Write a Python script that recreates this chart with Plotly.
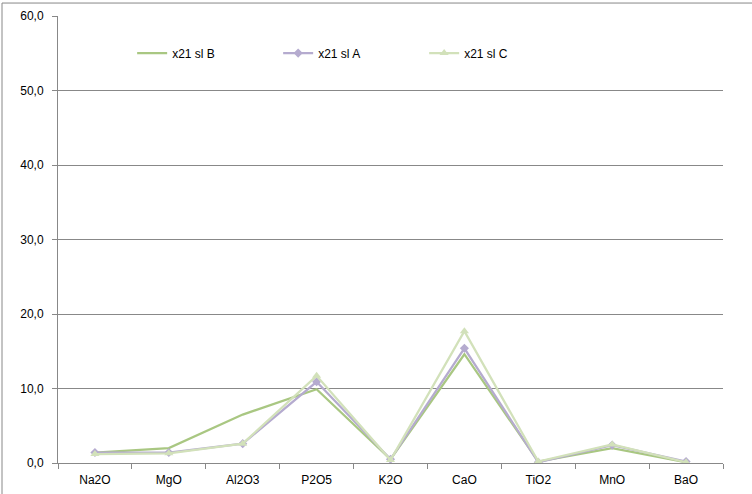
import plotly.graph_objects as go

categories = ["Na2O", "MgO", "Al2O3", "P2O5", "K2O", "CaO", "TiO2", "MnO", "BaO"]
series_B = [1.4, 2.0, 6.5, 9.9, 0.5, 14.6, 0.2, 2.0, 0.1]
series_A = [1.4, 1.4, 2.6, 10.9, 0.5, 15.4, 0.1, 2.4, 0.2]
series_C = [1.2, 1.3, 2.6, 11.7, 0.4, 17.7, 0.2, 2.5, 0.1]
y_ticks = [0, 10, 20, 30, 40, 50, 60]

fig = go.Figure()
fig.add_trace(go.Scatter(x=categories, y=series_B, name="x21 sl B", mode="lines",
                         line=dict(color="#A9C782", width=2.25)))
fig.add_trace(go.Scatter(x=categories, y=series_A, name="x21 sl A", mode="lines+markers",
                         line=dict(color="#B5ABCF", width=2.25),
                         marker=dict(symbol="diamond", size=7, color="#B5ABCF")))
fig.add_trace(go.Scatter(x=categories, y=series_C, name="x21 sl C", mode="lines+markers",
                         line=dict(color="#D2E1BA", width=2.25),
                         marker=dict(symbol="triangle-up", size=8, color="#D2E1BA")))

grid = "#888888"
fig.update_layout(
    width=752, height=494,
    margin=dict(l=58, r=29, t=16, b=31, autoexpand=False),
    paper_bgcolor="white", plot_bgcolor="white",
    separators=", ",
    font=dict(family="Liberation Sans, Arial, sans-serif", size=12, color="#000000"),
    showlegend=True,
    legend=dict(orientation="h", x=0.1115, y=0.917, xanchor="left", yanchor="middle",
                bgcolor="rgba(0,0,0,0)", entrywidth=101, entrywidthmode="pixels",
                font=dict(size=12)),
    xaxis=dict(type="category", showgrid=False, showline=True, linecolor=grid, linewidth=1,
               ticks="outside", tickson="boundaries", ticklen=5, tickcolor=grid,
               range=[-0.5, 8.5], ticklabelstandoff=6, automargin=False),
    yaxis=dict(range=[0, 60], tickvals=y_ticks, tickformat=".1f", showgrid=True,
               gridcolor=grid, gridwidth=1, showline=True, linecolor=grid, linewidth=1,
               ticks="outside", ticklen=5, tickcolor=grid, zeroline=False,
               ticklabelstandoff=6, automargin=False),
    shapes=[dict(type="rect", xref="paper", yref="paper", x0=-0.0842, x1=1.2,
                 y0=-0.3, y1=1.029, line=dict(color="#888888", width=1), layer="below")],
)
fig.write_html("out.html", config={"displayModeBar": False},
               post_script="document.body.style.margin='0px';")
